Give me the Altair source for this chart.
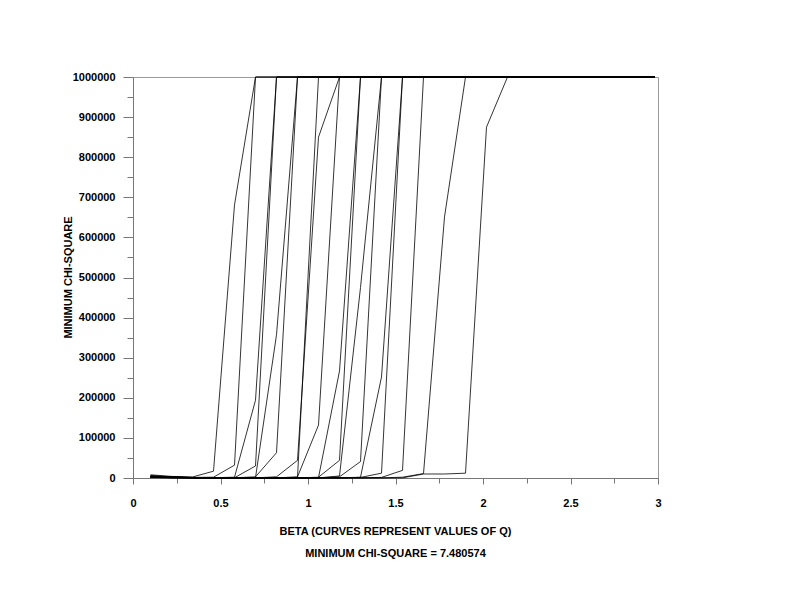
import altair as alt
import pandas as pd

M = 1000000

# beta grid (x)
beta = [0.10, 0.22, 0.34, 0.46, 0.58, 0.70, 0.82, 0.94, 1.06, 1.18, 1.30, 1.42, 1.54,
        1.66, 1.78, 1.90, 2.02, 2.14, 2.26, 2.38, 2.50, 2.62, 2.74, 2.86, 2.98]

# minimum chi-square per curve (one curve per value of Q),
# values at the top of the frame are shown as 1000000
q01 = [8000, 4000, 2500, 17000, 681000,
       M, M, M, M, M, M, M, M, M, M, M, M, M, M, M, M, M, M, M, M]
q02 = [6000, 3000, 1500, 2000, 32000,
       M, M, M, M, M, M, M, M, M, M, M, M, M, M, M, M, M, M, M, M]
q03 = [5000, 2500, 1200, 800, 2000, 194000,
       M, M, M, M, M, M, M, M, M, M, M, M, M, M, M, M, M, M, M]
q04 = [5000, 2500, 1200, 800, 600, 30000,
       M, M, M, M, M, M, M, M, M, M, M, M, M, M, M, M, M, M, M]
q05 = [4000, 2000, 1000, 700, 500, 3000, 63000,
       M, M, M, M, M, M, M, M, M, M, M, M, M, M, M, M, M, M]
q06 = [4000, 2000, 1000, 700, 500, 1000, 357000,
       M, M, M, M, M, M, M, M, M, M, M, M, M, M, M, M, M, M]
q07 = [3500, 1800, 900, 600, 500, 400, 3000, 44000, 850000,
       M, M, M, M, M, M, M, M, M, M, M, M, M, M, M, M]
q08 = [3500, 1800, 900, 600, 500, 400, 300, 1500,
       M, M, M, M, M, M, M, M, M, M, M, M, M, M, M, M, M]
q09 = [3000, 1500, 800, 500, 400, 300, 300, 3000, 132000,
       M, M, M, M, M, M, M, M, M, M, M, M, M, M, M, M]
q10 = [3000, 1500, 800, 500, 400, 300, 300, 300, 1000, 267000,
       M, M, M, M, M, M, M, M, M, M, M, M, M, M, M]
q11 = [2500, 1200, 700, 500, 400, 300, 300, 300, 2000, 44000,
       M, M, M, M, M, M, M, M, M, M, M, M, M, M, M]
q12 = [2500, 1200, 700, 500, 400, 300, 300, 300, 300, 5000, 475000,
       M, M, M, M, M, M, M, M, M, M, M, M, M, M]
q13 = [2000, 1000, 600, 400, 300, 300, 300, 300, 300, 3000, 41000,
       M, M, M, M, M, M, M, M, M, M, M, M, M, M]
q14 = [2000, 1000, 600, 400, 300, 300, 300, 300, 300, 300, 2000, 252000,
       M, M, M, M, M, M, M, M, M, M, M, M, M]
q15 = [1500, 800, 500, 400, 300, 300, 300, 300, 300, 300, 1500, 12000,
       M, M, M, M, M, M, M, M, M, M, M, M, M]
q16 = [1500, 800, 500, 400, 300, 300, 300, 300, 300, 300, 300, 1500, 19000,
       M, M, M, M, M, M, M, M, M, M, M, M]
q17 = [1200, 700, 500, 300, 300, 300, 300, 300, 300, 300, 300, 300, 2000, 11000, 651000,
       M, M, M, M, M, M, M, M, M, M]
q18 = [1000, 600, 400, 300, 300, 300, 300, 300, 300, 300, 300, 300, 300, 10000, 10000,
       12000, 875000, M, M, M, M, M, M, M, M]

curves = [q01, q02, q03, q04, q05, q06, q07, q08, q09, q10, q11, q12, q13, q14, q15,
          q16, q17, q18]

# axis tick values
x_major = [0, 0.5, 1, 1.5, 2, 2.5, 3]
x_minor = [0.25, 0.75, 1.25, 1.75, 2.25, 2.75]
y_major = [0, 100000, 200000, 300000, 400000, 500000, 600000, 700000, 800000, 900000, 1000000]
y_minor = [50000, 150000, 250000, 350000, 450000, 550000, 650000, 750000, 850000, 950000]

rows = []
for ci, vals in enumerate(curves):
    for b, v in zip(beta, vals):
        rows.append({"curve": f"Q{ci + 1:02d}", "beta": b, "chisq": v})
df = pd.DataFrame(rows)

FONT = "Liberation Sans"
xscale = alt.Scale(domain=[0, 3], nice=False, zero=False)
yscale = alt.Scale(domain=[0, M], nice=False)

lines = alt.Chart(df).mark_line(color="black", strokeWidth=0.8).encode(
    x=alt.X("beta:Q", scale=xscale,
            axis=alt.Axis(values=x_major, format="~g", orient="bottom", tickSize=6,
                          labelPadding=13, grid=False, labelFlush=False,
                          title=["BETA (CURVES REPRESENT VALUES OF Q)",
                                 "MINIMUM CHI-SQUARE = 7.480574"],
                          titleLineHeight=22, titleX=262, titleY=47,
                          titleBaseline="top", titleAlign="center")),
    y=alt.Y("chisq:Q", scale=yscale,
            axis=alt.Axis(values=y_major, format="d", orient="left", tickSize=10,
                          labelPadding=8, grid=False, labelFlush=False,
                          title="MINIMUM CHI-SQUARE",
                          titleX=-65, titleY=200, titleAngle=270,
                          titleBaseline="middle", titleAlign="center")),
    detail="curve:N",
    order="beta:Q",
)

minor = alt.Chart(df).mark_line(strokeOpacity=0).encode(
    x=alt.X("beta:Q", scale=xscale,
            axis=alt.Axis(values=x_minor, orient="bottom", tickSize=5, labels=False,
                          domain=False, grid=False, title=None)),
    y=alt.Y("chisq:Q", scale=yscale,
            axis=alt.Axis(values=y_minor, orient="left", tickSize=6, labels=False,
                          domain=False, grid=False, title=None)),
    detail="curve:N",
    order="beta:Q",
)

chart = alt.layer(lines, minor).resolve_axis(
    x="independent", y="independent"
).properties(
    width=525,
    height=401,
    autosize=alt.AutoSizeParams(type="none"),
    padding={"left": 125, "top": 69, "right": 100, "bottom": 100},
).configure_view(
    stroke="#999999", strokeWidth=1
).configure_axis(
    labelFont=FONT, labelFontSize=11, labelFontWeight="bold", labelColor="black",
    titleFont=FONT, titleFontSize=11, titleFontWeight="bold", titleColor="black",
    domainColor="#777777", tickColor="#777777",
)

chart.save("out.html", embed_options={"renderer": "svg", "actions": False})
